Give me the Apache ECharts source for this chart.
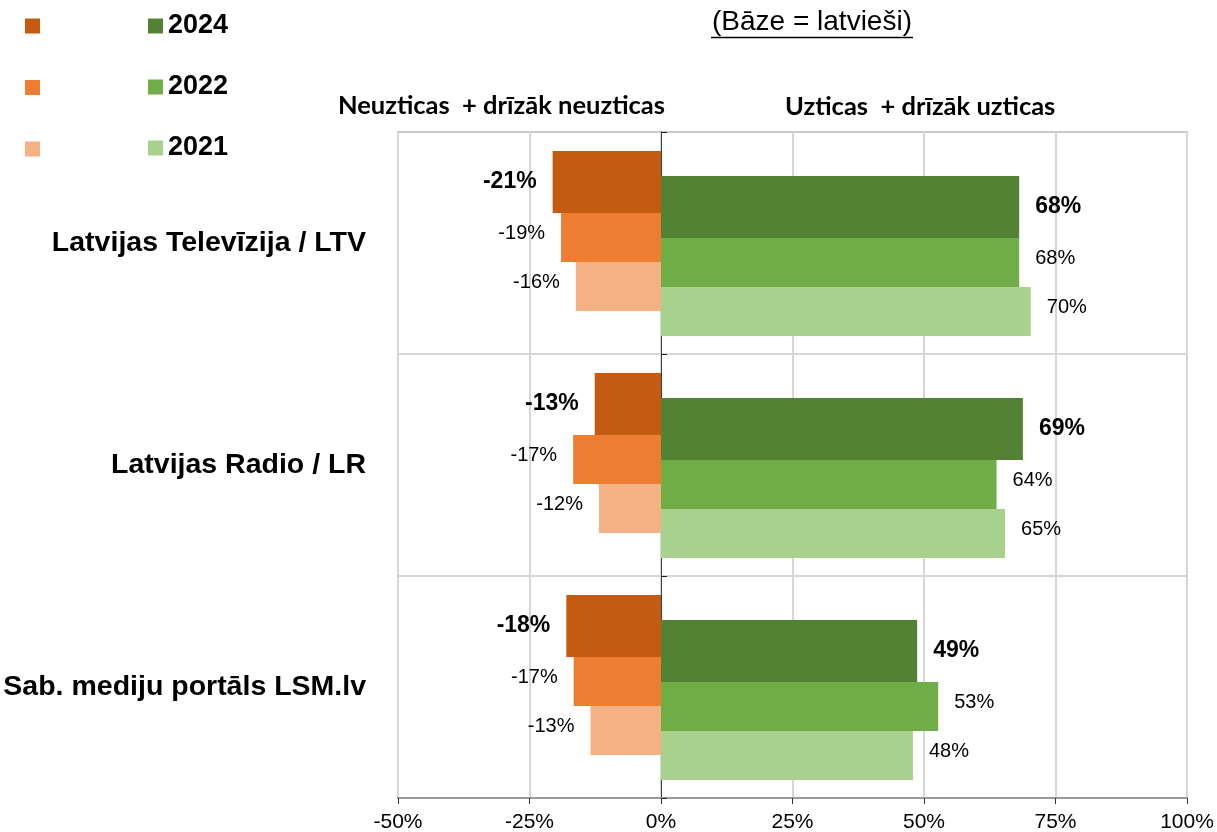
<!DOCTYPE html>
<html>
<head>
<meta charset="utf-8">
<script src="https://cdn.jsdelivr.net/npm/echarts@6/dist/echarts.min.js"></script>
<style>
html,body{margin:0;padding:0;background:#fff;}
#chart{width:1217px;height:832px;}
</style>
</head>
<body>
<div id="chart"></div>
<script>
// ---- data ----
const categories = ['Latvijas Televīzija / LTV', 'Latvijas Radio / LR', 'Sab. mediju portāls LSM.lv'];
const years = ['2024', '2022', '2021'];
const distrust2024 = [-20.6, -12.6, -18.0];
const distrust2022 = [-19.0, -16.7, -16.6];
const distrust2021 = [-16.2, -11.8, -13.4];
const trust2024 = [68.1, 68.8, 48.7];
const trust2022 = [68.1, 63.8, 52.7];
const trust2021 = [70.3, 65.4, 47.9];
const xTicks = [-50, -25, 0, 25, 50, 75, 100];

const orangeColors = ['#C55A11', '#ED7D31', '#F4B183'];
const greenColors = ['#548235', '#70AD47', '#A9D18E'];
const barWidths = [62, 49, 49];

const distrustData = [distrust2024, distrust2022, distrust2021];
const trustData = [trust2024, trust2022, trust2021];
const distrustNames = years.map(y => 'Neuzticas ' + y);

const chart = echarts.init(document.getElementById('chart'), null, {renderer: 'canvas'});

const fmt = p => Math.round(p.value) + '%';
const FONT = "'Liberation Sans', Arial, sans-serif";

const series = [];
years.forEach((y, i) => {
  series.push({
    name: y, type: 'bar', xAxisIndex: 1, yAxisIndex: 2,
    data: trustData[i], barWidth: barWidths[i], barGap: '0%',
    itemStyle: {color: greenColors[i]},
    label: {
      show: true, position: 'right', distance: 16, formatter: fmt,
      fontFamily: FONT, color: '#000',
      fontSize: i === 0 ? 23 : 20, fontWeight: i === 0 ? 'bold' : 'normal',
      offset: i === 0 ? [0, 0] : [0, -4]
    }
  });
});
years.forEach((y, i) => {
  series.push({
    name: distrustNames[i], type: 'bar', xAxisIndex: 2, yAxisIndex: 3,
    data: distrustData[i], barWidth: barWidths[i], barGap: '0%',
    itemStyle: {color: orangeColors[i]},
    label: {
      show: true, position: 'left', distance: 16, formatter: fmt,
      fontFamily: FONT, color: '#000',
      fontSize: i === 0 ? 23 : 20, fontWeight: i === 0 ? 'bold' : 'normal',
      offset: i === 0 ? [0, 0] : [0, -4]
    }
  });
});

const hiddenX = gi => ({
  type: 'value', gridIndex: gi, min: xTicks[0], max: xTicks[xTicks.length - 1], interval: 25, show: false
});
const hiddenY = gi => ({
  type: 'category', gridIndex: gi, data: categories, inverse: true, show: false
});

const option = {
  backgroundColor: '#fff',
  animation: false,
  grid: [
    {left: 398, top: 132, width: 789, height: 666, show: true, borderColor: '#c9c9c9', borderWidth: 2, outerBoundsMode: 'none', containLabel: false},
    {left: 398, top: 145, width: 789, height: 666, outerBoundsMode: 'none', containLabel: false},
    {left: 398, top: 120, width: 789, height: 666, outerBoundsMode: 'none', containLabel: false}
  ],
  xAxis: [
    {
      type: 'value', gridIndex: 0, min: xTicks[0], max: xTicks[xTicks.length - 1], interval: 25,
      position: 'bottom',
      axisLine: {show: true, onZero: false, lineStyle: {color: '#9a9a9a', width: 2}},
      axisTick: {show: true, length: 6, lineStyle: {color: '#333', width: 1}},
      axisLabel: {formatter: v => v + '%', fontSize: 21, fontFamily: FONT, color: '#000', margin: 14},
      splitLine: {show: true, lineStyle: {color: '#d6d6d6', width: 2}}
    },
    hiddenX(1),
    hiddenX(2)
  ],
  yAxis: [
    {
      type: 'category', gridIndex: 0, data: categories, inverse: true, position: 'left',
      axisLine: {show: false, onZero: false},
      axisTick: {show: false},
      axisLabel: {fontSize: 28.5, fontWeight: 'bold', fontFamily: FONT, color: '#000', margin: 32},
      splitLine: {show: true, lineStyle: {color: '#c9c9c9', width: 1.5}}
    },
    {
      type: 'category', gridIndex: 0, data: categories, inverse: true, position: 'left',
      axisLine: {show: true, onZero: true, lineStyle: {color: '#404040', width: 1}},
      axisTick: {show: true, inside: true, length: 6, lineStyle: {color: '#222', width: 1}},
      axisLabel: {show: false},
      splitLine: {show: false}
    },
    hiddenY(1),
    hiddenY(2)
  ],
  legend: [
    {
      data: distrustNames, orient: 'vertical', left: 25, top: 18.5, padding: 0,
      itemWidth: 15, itemHeight: 15, itemGap: 46.5, icon: 'rect',
      formatter: () => '',
      textStyle: {fontSize: 27, lineHeight: 15, fontFamily: FONT}
    },
    {
      data: years, orient: 'vertical', left: 148, top: 12.5, padding: 0,
      itemWidth: 15, itemHeight: 15, itemGap: 34, icon: 'rect',
      textStyle: {fontSize: 27, lineHeight: 15, fontWeight: 'bold', fontFamily: FONT, color: '#000'}
    }
  ],
  graphic: [
    {type: 'text', x: 812, y: 22, style: {
      text: '(Bāze = latvieši)', textAlign: 'center', textVerticalAlign: 'middle',
      font: "28px 'Liberation Sans', Arial, sans-serif", fill: '#000'}},
    {type: 'line', shape: {x1: 711, y1: 37.5, x2: 913, y2: 37.5}, style: {stroke: '#000', lineWidth: 1.5}},
    {type: 'text', x: 665, y: 106, style: {
      text: 'Neuzticas  + drīzāk neuzticas', textAlign: 'right', textVerticalAlign: 'middle',
      font: "bold 25.5px Lato, 'Open Sans', sans-serif", fill: '#000'}},
    {type: 'text', x: 785, y: 107, style: {
      text: 'Uzticas  + drīzāk uzticas', textAlign: 'left', textVerticalAlign: 'middle',
      font: "bold 25.5px Lato, 'Open Sans', sans-serif", fill: '#000'}}
  ],
  series: series
};
chart.setOption(option);
</script>
</body>
</html>
